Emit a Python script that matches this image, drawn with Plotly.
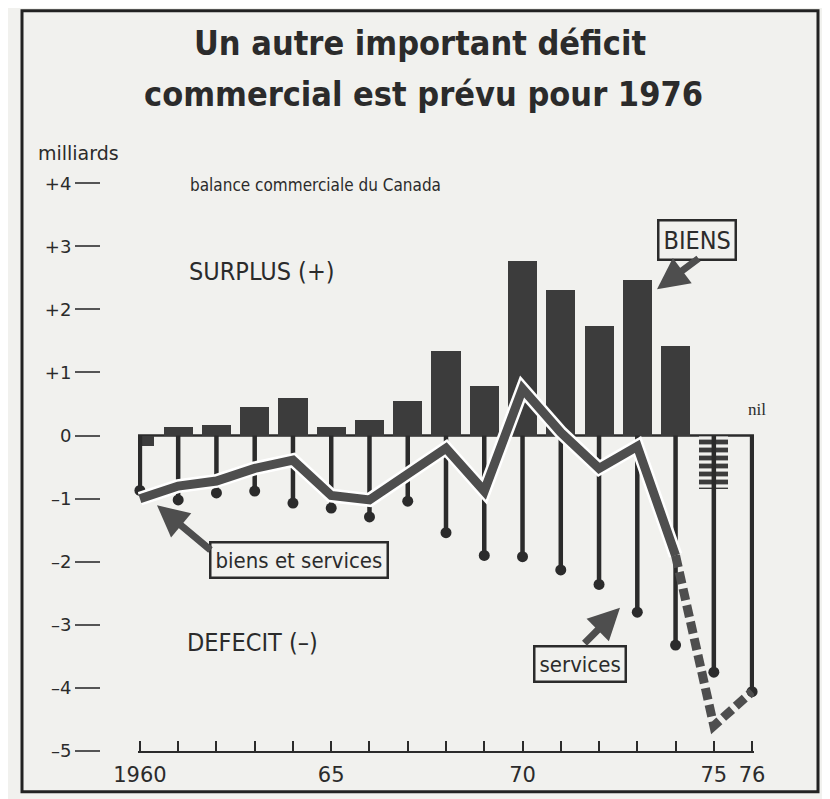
import plotly.graph_objects as go

# ---------------- data (milliards de dollars) ----------------
years = list(range(1960, 1977))
x_tick_text = ["1960", "", "", "", "", "65", "", "", "", "", "70", "", "", "", "", "75", "76"]

# BIENS (goods balance), actual 1960-1974
biens_years = list(range(1960, 1975))
biens = [-0.17, 0.14, 0.17, 0.45, 0.60, 0.14, 0.24, 0.55, 1.34, 0.79, 2.77, 2.31, 1.73, 2.46, 1.42]
# BIENS forecast (1975 hatched, 1976 nil)
biens_prev_years = [1975, 1976]
biens_prev = [-0.85, 0.0]

# services balance 1960-1976
services = [-0.87, -1.02, -0.91, -0.88, -1.07, -1.15, -1.29, -1.04, -1.54, -1.90,
            -1.92, -2.13, -2.36, -2.80, -3.32, -3.75, -4.06]

# biens et services (total), actual and forecast
bs_years = list(range(1960, 1975))
bs = [-1.00, -0.80, -0.72, -0.52, -0.39, -0.95, -1.02, -0.63, -0.20, -0.88,
      0.74, 0.05, -0.52, -0.17, -1.90]
bs_prev_years = [1974, 1975, 1976]
bs_prev = [-1.90, -4.60, -4.06]

y_tick_vals = [4, 3, 2, 1, 0, -1, -2, -3, -4, -5]
y_tick_text = ["+4", "+3", "+2", "+1", "0", "–1", "–2", "–3", "–4", "–5"]

# ---------------- styling ----------------
PAPER = "#f1f1ee"
INK = "#2b2b2b"
BAR = "#3c3c3c"
LINE = "#4e4e4e"
NARROW = "Liberation Sans Narrow, DejaVu Sans Condensed, Arial Narrow, sans-serif"

OFF = 8  # page body margin
W, H = 830 - OFF, 799 - OFF
L, T = 100 - OFF, 158 - OFF
R, B = 76, 45
PW, PH = W - L - R, H - T - B


def xp(px):
    return (px - OFF - L) / PW


def yp(py):
    return (H - B - (py - OFF)) / PH


fig = go.Figure()

# goods bars
fig.add_trace(go.Bar(x=biens_years, y=biens, width=0.76, marker=dict(color=BAR, line=dict(width=0)),
                     cliponaxis=False, hoverinfo="skip", showlegend=False))
fig.add_trace(go.Bar(x=biens_prev_years, y=biens_prev, width=0.76,
                     marker=dict(color=PAPER, line=dict(width=0),
                                 pattern=dict(shape="-", fgcolor=BAR, bgcolor=PAPER, size=8,
                                              solidity=0.6, fgopacity=1)),
                     cliponaxis=False, hoverinfo="skip", showlegend=False))

# services stems with round ends
sx, sy = [], []
for yr, v in zip(years, services):
    sx += [yr, yr, None]
    sy += [0, v, None]
fig.add_trace(go.Scatter(x=sx, y=sy, mode="lines", line=dict(color=INK, width=4.5),
                         cliponaxis=False, hoverinfo="skip", showlegend=False))
fig.add_trace(go.Scatter(x=years, y=services, mode="markers", marker=dict(color=INK, size=11),
                         cliponaxis=False, hoverinfo="skip", showlegend=False))

# biens et services line: white halo + grey line
fig.add_trace(go.Scatter(x=bs_years, y=bs, mode="lines", line=dict(color="white", width=14),
                         cliponaxis=False, hoverinfo="skip", showlegend=False))
fig.add_trace(go.Scatter(x=bs_years, y=bs, mode="lines", line=dict(color=LINE, width=9),
                         cliponaxis=False, hoverinfo="skip", showlegend=False))
fig.add_trace(go.Scatter(x=bs_prev_years, y=bs_prev, mode="lines",
                         line=dict(color=LINE, width=9, dash="12px,5px"),
                         cliponaxis=False, hoverinfo="skip", showlegend=False))

ann = []


def text(px, py, s, size, family=NARROW, anchor="left", weight="normal", **kw):
    ann.append(dict(xref="paper", yref="paper", x=xp(px), y=yp(py), text=s, showarrow=False,
                    xanchor=anchor, yanchor="middle",
                    font=dict(family=family, size=size, color=INK, weight=weight), **kw))


text(420, 42, "Un autre important déficit", 34, anchor="center", weight="bold")
text(423, 94, "commercial est prévu pour 1976", 34, anchor="center", weight="bold")
text(36, 153, "milliards", 19, family="DejaVu Sans")
text(188, 185, "balance commerciale du Canada", 17)
text(187, 272, "SURPLUS (+)", 25)
text(185, 645, "DEFECIT (–)", 25)
text(757, 411, "nil", 17, anchor="center", family="Liberation Serif")

box = dict(bordercolor=INK, borderwidth=2.5, borderpad=4, bgcolor=PAPER)
text(697, 240, "BIENS", 25, anchor="center", **box)
text(299, 562, "biens et services", 22, anchor="center", **box)
text(580, 667, "services", 22, anchor="center", **box)


def arrow(tipx, tipy, tailx, taily):
    ann.append(dict(xref="paper", yref="paper", x=xp(tipx), y=yp(tipy), text="", showarrow=True,
                    ax=tailx - tipx, ay=taily - tipy, arrowhead=2, arrowsize=0.9, arrowwidth=7,
                    arrowcolor=LINE))


arrow(657, 290, 700, 258)
arrow(157, 507, 212, 553)
arrow(620, 610, 583, 647)

shapes = [
    # zero line
    dict(type="line", xref="x", yref="y", x0=years[0] - 0.65, x1=years[-1] + 0.55, y0=0, y1=0,
         line=dict(color=INK, width=2.5), layer="below"),
    # frame
    dict(type="rect", xref="paper", yref="paper", x0=xp(22), x1=xp(818), y0=yp(795), y1=yp(10),
         line=dict(color="#222", width=3)),
]

fig.update_layout(
    width=W, height=H, margin=dict(l=L, r=R, t=T, b=B),
    paper_bgcolor=PAPER, plot_bgcolor=PAPER,
    annotations=ann, shapes=shapes, showlegend=False, bargap=0,
    xaxis=dict(domain=[(138 - OFF - L) / PW, 1], range=[1959.95, 1976.05], showgrid=False,
               zeroline=False, showline=True, linecolor=INK, linewidth=2,
               tickvals=years, ticktext=x_tick_text, ticks="inside", ticklen=10, tickwidth=2,
               tickcolor=INK, tickfont=dict(family="DejaVu Sans", size=21, color=INK),
               ticklabelstandoff=4),
    yaxis=dict(range=[-5.0, 4.4], anchor="free", position=0, showgrid=False, zeroline=False,
               showline=False, tickvals=y_tick_vals, ticktext=y_tick_text, ticks="outside",
               ticklen=25, tickwidth=1.5, tickcolor="#555",
               tickfont=dict(family="DejaVu Sans", size=18, color=INK)),
)

fig.write_html("out.html")
